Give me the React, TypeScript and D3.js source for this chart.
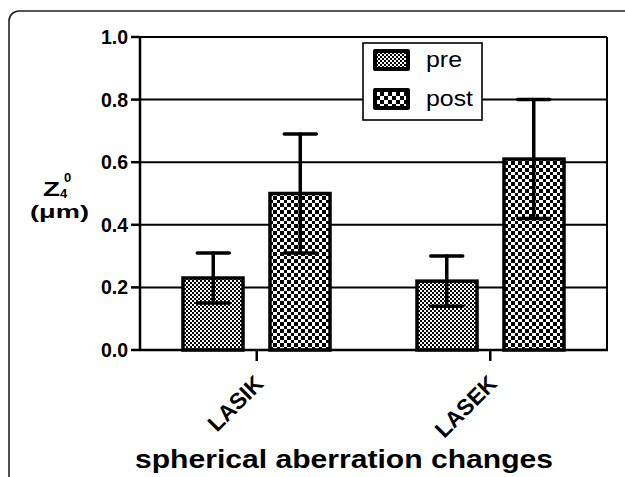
import React from "react";
import * as d3 from "d3";

const categories = ["LASIK", "LASEK"];
const series = ["pre", "post"];
const preMeans = [0.23, 0.22];
const preSD = [0.08, 0.08];
const postMeans = [0.5, 0.61];
const postSD = [0.19, 0.19];
const yTicks = [0, 0.2, 0.4, 0.6, 0.8, 1.0];

const W = 625;
const H = 477;
const FONT = "'Liberation Sans', Arial, Helvetica, sans-serif";

export default function App() {
  const margin = { top: 37, right: 18, bottom: 127, left: 140 };
  const x0 = d3.scaleBand<string>().domain(categories).range([margin.left, W - margin.right]).padding(0);
  const x1 = d3
    .scaleBand<string>()
    .domain(series)
    .range([0, x0.bandwidth()])
    .paddingInner(0.31)
    .paddingOuter(0.497);
  const y = d3.scaleLinear().domain([0, 1]).range([H - margin.bottom, margin.top]);

  const rows = categories.flatMap((c, i) => [
    { cat: c, s: "pre", mean: preMeans[i], sd: preSD[i] },
    { cat: c, s: "post", mean: postMeans[i], sd: postSD[i] },
  ]);

  const left = margin.left;
  const right = W - margin.right;
  const bottom = y(0);
  const capW = 32;

  return (
    <div style={{ position: "absolute", left: 0, top: 0 }}>
      <svg width={W} height={H} style={{ display: "block", background: "#fff" }}>
        <defs>
          <pattern id="pat-pre" width={4} height={4} patternUnits="userSpaceOnUse">
            <rect width={4} height={4} fill="#fff" />
            <rect x={0} y={0} width={2} height={2} fill="#000" />
            <rect x={2} y={2} width={2} height={2} fill="#000" />
          </pattern>
          <pattern id="pat-post" width={7} height={7} patternUnits="userSpaceOnUse">
            <rect width={7} height={7} fill="#fff" />
            <rect x={0} y={0} width={4} height={4} fill="#000" />
            <rect x={4} y={4} width={3} height={3} fill="#000" />
          </pattern>
          <pattern id="pat-post-sw" width={8} height={8} patternUnits="userSpaceOnUse">
            <rect width={8} height={8} fill="#fff" />
            <rect x={0} y={0} width={4} height={4} fill="#000" />
            <rect x={4} y={4} width={4} height={4} fill="#000" />
          </pattern>
        </defs>

        {/* outer frame */}
        <rect x={9} y={11} width={640} height={500} rx={10} fill="none" stroke="#222" strokeWidth={1.6} />

        {/* gridlines */}
        {yTicks.map((t) => (
          <line key={t} x1={left} x2={right} y1={y(t)} y2={y(t)} stroke="#000" strokeWidth={2} />
        ))}
        <line x1={right} x2={right} y1={y(1)} y2={bottom} stroke="#000" strokeWidth={2} />

        {/* bars */}
        {rows.map((d) => {
          const bx = Math.round((x0(d.cat) || 0) + (x1(d.s) || 0));
          return (
            <rect
              key={d.cat + d.s}
              x={bx}
              y={y(d.mean)}
              width={Math.round(x1.bandwidth())}
              height={bottom - y(d.mean)}
              fill={d.s === "pre" ? "url(#pat-pre)" : "url(#pat-post)"}
              stroke="#000"
              strokeWidth={3.5}
            />
          );
        })}

        {/* error bars */}
        {rows.map((d) => {
          const cx = (x0(d.cat) || 0) + (x1(d.s) || 0) + x1.bandwidth() / 2;
          const hi = y(d.mean + d.sd);
          const lo = y(d.mean - d.sd);
          return (
            <g key={"e" + d.cat + d.s} stroke="#000" strokeWidth={3.5} strokeLinecap="round">
              <line x1={cx} x2={cx} y1={hi} y2={lo} />
              <line x1={cx - capW / 2} x2={cx + capW / 2} y1={hi} y2={hi} />
              <line x1={cx - capW / 2} x2={cx + capW / 2} y1={lo} y2={lo} />
            </g>
          );
        })}

        {/* axes */}
        <line x1={left} x2={left} y1={y(1) - 1} y2={bottom + 1} stroke="#000" strokeWidth={2.5} />
        <line x1={left} x2={right + 1} y1={bottom} y2={bottom} stroke="#000" strokeWidth={2.5} />
        {yTicks.map((t) => (
          <g key={"t" + t}>
            <line x1={left - 9} x2={left} y1={y(t)} y2={y(t)} stroke="#000" strokeWidth={2.5} />
            <text
              x={left - 12}
              y={y(t) + 7}
              textAnchor="end"
              fontFamily={FONT}
              fontWeight="bold"
              fontSize={19.5}
              fill="#000"
            >
              {t.toFixed(1)}
            </text>
          </g>
        ))}
        {categories.map((c) => {
          const cx = (x0(c) || 0) + x0.bandwidth() / 2;
          return (
            <g key={"c" + c}>
              <line x1={cx} x2={cx} y1={bottom} y2={bottom + 11} stroke="#000" strokeWidth={2.5} />
              <text
                transform={`translate(${cx + 8},${bottom + 35}) rotate(-45)`}
                textAnchor="end"
                fontFamily={FONT}
                fontWeight="bold"
                fontSize={22.5}
                fill="#000"
              >
                {c}
              </text>
            </g>
          );
        })}

        {/* y title */}
        <text
          x={43}
          y={196}
          fontFamily={FONT}
          fontWeight="bold"
          fontSize={20}
          fill="#000"
          textLength={17}
          lengthAdjust="spacingAndGlyphs"
        >
          Z
        </text>
        <text x={60} y={198} fontFamily={FONT} fontWeight="bold" fontSize={13} fill="#000">4</text>
        <text x={64} y={182} fontFamily={FONT} fontWeight="bold" fontSize={13} fill="#000">0</text>
        <text
          x={30}
          y={218}
          fontFamily={FONT}
          fontWeight="bold"
          fontSize={19}
          fill="#000"
          textLength={59}
          lengthAdjust="spacingAndGlyphs"
        >
          (μm)
        </text>

        {/* x title */}
        <text
          x={135}
          y={468}
          fontFamily={FONT}
          fontWeight="bold"
          fontSize={25.5}
          fill="#000"
          textLength={418}
          lengthAdjust="spacingAndGlyphs"
        >
          spherical aberration changes
        </text>

        {/* legend */}
        <rect x={363} y={43} width={119} height={77} fill="#fff" stroke="#000" strokeWidth={1.6} />
        {series.map((s, i) => {
          const sy = 49 + i * 39;
          return (
            <g key={"l" + s}>
              <rect x={373} y={sy} width={37} height={22} rx={2} fill="#000" />
              <rect
                x={377}
                y={sy + 4}
                width={29}
                height={14}
                fill={s === "pre" ? "url(#pat-pre)" : "url(#pat-post-sw)"}
              />
              <text
                x={426}
                y={sy + 18}
                fontFamily={FONT}
                fontSize={22}
                fill="#000"
                textLength={s === "pre" ? 36 : 47}
                lengthAdjust="spacingAndGlyphs"
              >
                {s}
              </text>
            </g>
          );
        })}
      </svg>
    </div>
  );
}
